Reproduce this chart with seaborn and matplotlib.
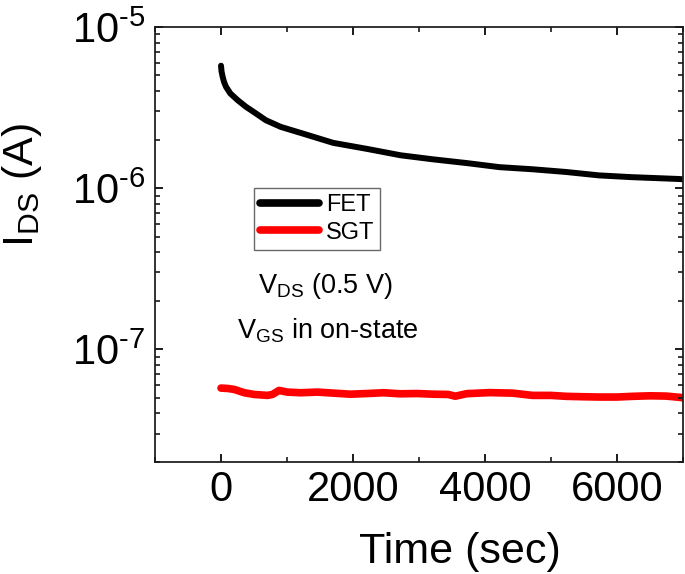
import numpy as np
import pandas as pd
import seaborn as sns
import matplotlib.pyplot as plt
import matplotlib.transforms as mtransforms
from matplotlib.collections import LineCollection
from matplotlib.ticker import LogLocator, MultipleLocator, FuncFormatter, NullFormatter

# values
fet_time = [0, 8, 25, 45, 75, 141, 251, 377, 528, 679, 905, 1210, 1700, 2220, 2720, 3210, 3730, 4220, 4720,
            5230, 5730, 6230, 6940, 7000]
fet_current = [5.75e-6, 5.3e-6, 4.91e-6, 4.57e-6, 4.26e-6, 3.87e-6, 3.52e-6, 3.20e-6, 2.91e-6, 2.64e-6, 2.40e-6,
               2.20e-6, 1.91e-6, 1.75e-6, 1.60e-6, 1.51e-6, 1.43e-6, 1.35e-6, 1.31e-6, 1.26e-6, 1.20e-6, 1.17e-6,
               1.14e-6, 1.135e-6]

sgt_time = [0, 100, 201, 352, 503, 704, 779, 880, 1005, 1207, 1458, 1709, 1961, 2212, 2463, 2715, 2966, 3217,
            3443, 3550, 3725, 4072, 4419, 4721, 5000, 5234, 5500, 5732, 6000, 6229, 6500, 6742, 6968, 7000]
sgt_current = [5.75e-8, 5.72e-8, 5.64e-8, 5.38e-8, 5.25e-8, 5.18e-8, 5.25e-8, 5.56e-8, 5.43e-8, 5.38e-8, 5.43e-8,
               5.35e-8, 5.27e-8, 5.32e-8, 5.38e-8, 5.30e-8, 5.32e-8, 5.27e-8, 5.25e-8, 5.12e-8, 5.31e-8, 5.39e-8,
               5.35e-8, 5.18e-8, 5.18e-8, 5.11e-8, 5.08e-8, 5.06e-8, 5.06e-8, 5.11e-8, 5.15e-8, 5.13e-8, 5.03e-8,
               5.0e-8]

devices = ["FET", "SGT"]
colors = {"FET": "black", "SGT": "red"}

df = pd.concat([
    pd.DataFrame({"time": fet_time, "current": fet_current, "device": "FET"}),
    pd.DataFrame({"time": sgt_time, "current": sgt_current, "device": "SGT"}),
])

sns.set_style("ticks")
plt.rcParams.update({
    'font.family': ['Liberation Sans', 'DejaVu Sans'],
    'mathtext.fontset': 'custom',
    'mathtext.rm': 'Liberation Sans',
    'mathtext.it': 'Liberation Sans:italic',
    'mathtext.bf': 'Liberation Sans:bold',
    'mathtext.default': 'regular',
    'text.color': 'black',
    'axes.labelcolor': 'black',
    'xtick.labelcolor': 'black',
    'ytick.labelcolor': 'black',
})

fig = plt.figure(figsize=(6.85, 5.74), dpi=100)
ax = fig.add_axes([0.2263, 0.1951, 0.7707, 0.7579])
ax.set_yscale('log')

widths = {"FET": 4.3, "SGT": 5.5}
for d in devices:
    sns.lineplot(ax=ax, data=df[df['device'] == d], x='time', y='current', color=colors[d],
                 linewidth=widths[d], estimator=None, sort=False, label=d,
                 solid_capstyle='round', solid_joinstyle='round')

xlim = (-1000, 7000)
ylim = (2e-8, 1e-5)
ax.set_xlim(*xlim)
ax.set_ylim(*ylim)

ax.xaxis.set_major_locator(MultipleLocator(2000))
ax.xaxis.set_minor_locator(MultipleLocator(1000))
ax.yaxis.set_major_locator(LogLocator(base=10, numticks=10))
ax.yaxis.set_minor_locator(LogLocator(base=10, subs=np.arange(2, 10), numticks=20))


def sci(v, pos):
    e = int(round(np.log10(v)))
    return r'$10^{\text{-}%d}$' % (-e)


ax.yaxis.set_major_formatter(FuncFormatter(sci))
ax.yaxis.set_minor_formatter(NullFormatter())

# tick marks are drawn as line segments (inward, on all four sides)
ax.tick_params(which='both', length=0, labelsize=30)
ax.tick_params(axis='y', which='major', pad=7)
ax.tick_params(axis='x', which='major', pad=6)

tcol = '#1a1a1a'
bbox = ax.get_position()
fw, fh = fig.get_size_inches() * fig.dpi
ax_w, ax_h = bbox.width * fw, bbox.height * fh
maj_px, min_px = 8, 5

xt = mtransforms.blended_transform_factory(ax.transData, ax.transAxes)
yt = mtransforms.blended_transform_factory(ax.transAxes, ax.transData)

xmaj = [v for v in ax.xaxis.get_majorticklocs() if xlim[0] <= v <= xlim[1]]
xmin = [v for v in ax.xaxis.get_minorticklocs() if xlim[0] <= v <= xlim[1] and v not in xmaj]
ymaj = [v for v in ax.yaxis.get_majorticklocs() if ylim[0] <= v <= ylim[1]]
ymin = [v for v in ax.yaxis.get_minorticklocs() if ylim[0] <= v <= ylim[1]]

for locs, px, lw in [(xmaj, maj_px, 1.4), (xmin, min_px, 1.2)]:
    L = px / ax_h
    segs = [[(v, 0), (v, L)] for v in locs] + [[(v, 1), (v, 1 - L)] for v in locs]
    ax.add_collection(LineCollection(segs, transform=xt, colors=tcol, linewidths=lw, clip_on=False, zorder=4))
for locs, px, lw in [(ymaj, maj_px, 1.4), (ymin, min_px, 1.2)]:
    L = px / ax_w
    segs = [[(0, v), (L, v)] for v in locs] + [[(1, v), (1 - L, v)] for v in locs]
    ax.add_collection(LineCollection(segs, transform=yt, colors=tcol, linewidths=lw, clip_on=False, zorder=4))
ax.set_xlim(*xlim)
ax.set_ylim(*ylim)

for s in ax.spines.values():
    s.set_linewidth(1.3)
    s.set_color('#222222')

ax.set_xlabel('Time (sec)', fontsize=31, va='baseline')
ax.xaxis.set_label_coords(460 / 685, 1 - 563 / 574, transform=fig.transFigure)
ax.set_ylabel(r'I$_{\mathrm{DS}}$ (A)', fontsize=31, va='baseline')
ax.yaxis.set_label_coords(33 / 685, 1 - 185 / 574, transform=fig.transFigure)

handles, labels = ax.get_legend_handles_labels()
leg = ax.legend(handles, labels, loc='upper left', bbox_to_anchor=(0.1875, 0.630), borderaxespad=0,
                fontsize=17, frameon=True, fancybox=False, handlelength=2.5, handletextpad=0.3,
                labelspacing=0.25, borderpad=0.25)
leg.get_frame().set_edgecolor('#444444')
leg.get_frame().set_linewidth(1.0)
for h in leg.legend_handles:
    h.set_linewidth(5.5)

ax.text(0.195, 0.3885, r'V$_{\mathrm{DS}}$ (0.5 V)', transform=ax.transAxes, fontsize=19.5, va='baseline', ha='left')
ax.text(0.155, 0.285, r'V$_{\mathrm{GS}}$ in on-state', transform=ax.transAxes, fontsize=19.5, va='baseline', ha='left')

fig.savefig('out.png', dpi=100)
